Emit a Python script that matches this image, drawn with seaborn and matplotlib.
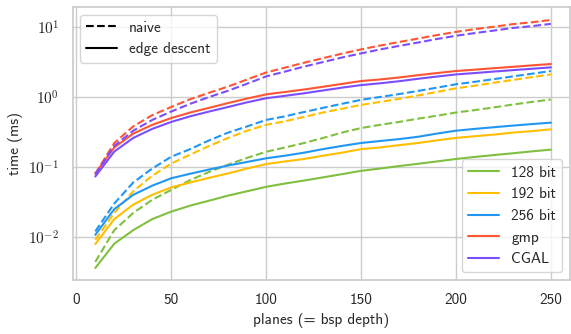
import numpy as np
import pandas as pd
import matplotlib
matplotlib.use("Agg")
import matplotlib.pyplot as plt
from matplotlib.lines import Line2D
from matplotlib.ticker import FuncFormatter, LogLocator
import seaborn as sns

# ==================================================
# data
# ==================================================
planes = list(range(10, 251, 10))

# edge descent
edge_128 = [0.0036, 0.0080, 0.0125, 0.018, 0.023, 0.028, 0.033, 0.039, 0.045, 0.052,
            0.058, 0.064, 0.071, 0.079, 0.088, 0.095, 0.103, 0.111, 0.120, 0.130,
            0.139, 0.148, 0.157, 0.167, 0.177]
edge_192 = [0.0079, 0.018, 0.029, 0.040, 0.051, 0.060, 0.070, 0.081, 0.095, 0.110,
            0.120, 0.130, 0.145, 0.160, 0.180, 0.190, 0.205, 0.220, 0.240, 0.260,
            0.275, 0.290, 0.310, 0.325, 0.345]
edge_256 = [0.0107, 0.025, 0.040, 0.054, 0.069, 0.080, 0.092, 0.105, 0.118, 0.133,
            0.145, 0.160, 0.180, 0.200, 0.220, 0.235, 0.250, 0.270, 0.300, 0.330,
            0.350, 0.370, 0.390, 0.410, 0.430]
edge_gmp = [0.081, 0.19, 0.30, 0.40, 0.50, 0.60, 0.70, 0.82, 0.95, 1.09,
            1.18, 1.28, 1.40, 1.54, 1.69, 1.78, 1.90, 2.05, 2.20, 2.35,
            2.46, 2.58, 2.70, 2.83, 2.96]
edge_cgal = [0.073, 0.166, 0.26, 0.35, 0.44, 0.53, 0.62, 0.72, 0.84, 0.96,
             1.04, 1.13, 1.24, 1.36, 1.48, 1.57, 1.68, 1.82, 1.96, 2.10,
             2.20, 2.31, 2.42, 2.53, 2.65]

# naive
naive_128 = [0.0044, 0.0125, 0.022, 0.034, 0.047, 0.065, 0.085, 0.108, 0.135, 0.165,
             0.19, 0.22, 0.26, 0.31, 0.36, 0.40, 0.44, 0.49, 0.54, 0.60,
             0.65, 0.71, 0.78, 0.85, 0.92]
naive_192 = [0.0091, 0.022, 0.045, 0.075, 0.112, 0.15, 0.20, 0.26, 0.33, 0.40,
             0.45, 0.52, 0.60, 0.68, 0.77, 0.85, 0.94, 1.05, 1.18, 1.33,
             1.45, 1.60, 1.75, 1.92, 2.10]
naive_256 = [0.012, 0.030, 0.060, 0.095, 0.14, 0.18, 0.24, 0.31, 0.38, 0.47,
             0.53, 0.61, 0.70, 0.80, 0.91, 1.00, 1.10, 1.22, 1.36, 1.52,
             1.65, 1.80, 1.97, 2.15, 2.35]
naive_gmp = [0.080, 0.22, 0.38, 0.55, 0.72, 0.93, 1.15, 1.41, 1.78, 2.24,
             2.63, 3.09, 3.59, 4.17, 4.79, 5.43, 6.10, 6.84, 7.67, 8.51,
             9.33, 10.1, 11.0, 11.7, 12.6]
naive_cgal = [0.078, 0.20, 0.33, 0.47, 0.62, 0.80, 1.00, 1.23, 1.55, 1.97,
              2.31, 2.72, 3.16, 3.67, 4.20, 4.78, 5.37, 6.00, 6.75, 7.50,
              8.20, 8.90, 9.70, 10.3, 11.1]

precisions = ["128 bit", "192 bit", "256 bit", "gmp", "CGAL"]
methods = ["naive", "edge descent"]
colors = ["#80c040", "#ffbf00", "#2196f3", "#ff5533", "#7c4dff"]

edge = [edge_128, edge_192, edge_256, edge_gmp, edge_cgal]
naive = [naive_128, naive_192, naive_256, naive_gmp, naive_cgal]

rows = []
for p, vals in zip(precisions, naive):
    for x, v in zip(planes, vals):
        rows.append((x, v, p, "naive"))
for p, vals in zip(precisions, edge):
    for x, v in zip(planes, vals):
        rows.append((x, v, p, "edge descent"))
df = pd.DataFrame(rows, columns=["planes", "time", "precision", "method"])

# ==================================================
# plot
# ==================================================
sns.set_theme(style="whitegrid")
plt.rcParams['font.family'] = ['cmss10', 'DejaVu Sans']
plt.rcParams['mathtext.fontset'] = 'cm'
plt.rcParams['axes.unicode_minus'] = False
plt.rcParams['font.size'] = 11

fig, ax = plt.subplots(figsize=(5.71, 3.34), dpi=100)
palette = dict(zip(precisions, colors))
sns.lineplot(data=df, x="planes", y="time", hue="precision", style="method",
             hue_order=precisions, style_order=methods, palette=palette,
             dashes={"naive": (3.7, 1.6), "edge descent": ""},
             linewidth=1.5, legend=False, ax=ax)

ax.set_yscale("log")
ax.set_xlim(-2, 260)
ax.set_ylim(10 ** -2.614, 10 ** 1.286)
ax.set_xticks([0, 50, 100, 150, 200, 250])
ax.yaxis.set_major_locator(LogLocator(base=10))
ax.yaxis.set_major_formatter(FuncFormatter(lambda v, pos: r"$10^{%d}$" % round(np.log10(v))))
ax.set_xlabel("planes (= bsp depth)", fontsize=11)
ax.set_ylabel("time (ms)", fontsize=11)
ax.tick_params(labelsize=11)

style_handles = [Line2D([], [], color="black", lw=1.5, ls=(0, (3.7, 1.6))),
                 Line2D([], [], color="black", lw=1.5)]
leg1 = ax.legend(style_handles, methods, loc="upper left", fontsize=11)
ax.add_artist(leg1)
color_handles = [Line2D([], [], color=c, lw=1.5) for c in colors]
ax.legend(color_handles, precisions, loc="lower right", fontsize=11)

plt.subplots_adjust(left=0.127, right=0.998, top=0.979, bottom=0.162)
plt.savefig("out.png", dpi=100)
